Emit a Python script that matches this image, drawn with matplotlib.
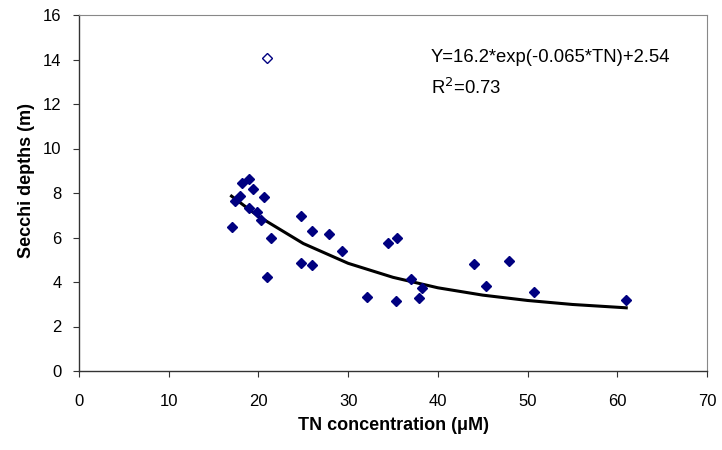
import matplotlib
matplotlib.use("Agg")
import matplotlib.pyplot as plt

plt.rcParams['font.family'] = ['Liberation Sans', 'DejaVu Sans']

# TN concentration (uM) vs Secchi depth (m)
tn_values = [18.2, 19.0, 19.4, 20.65, 17.9, 17.4, 18.96, 19.8, 20.25, 17.1,
             21.4, 24.8, 26.0, 27.9, 24.7, 26.0, 20.95, 29.3, 34.4, 35.5,
             32.1, 35.3, 37.0, 38.2, 37.95, 44.05, 47.96, 45.4, 50.7, 61.0]
secchi_values = [8.44, 8.61, 8.19, 7.82, 7.87, 7.65, 7.34, 7.16, 6.79, 6.47,
                 5.98, 6.95, 6.28, 6.16, 4.85, 4.78, 4.24, 5.39, 5.74, 5.99,
                 3.34, 3.13, 4.12, 3.72, 3.27, 4.81, 4.96, 3.82, 3.56, 3.17]

# outlier, drawn hollow
outlier_tn = [21.0]
outlier_secchi = [14.05]

# fitted curve
curve_tn = [17.0, 20.0, 25.0, 30.0, 35.0, 40.0, 45.0, 50.0, 55.0, 61.0]
curve_secchi = [7.86, 6.95, 5.73, 4.84, 4.21, 3.74, 3.41, 3.17, 2.99, 2.84]

fig = plt.figure(figsize=(7.22, 4.5), dpi=100)
ax = fig.add_axes([79 / 722, 79 / 450, 628 / 722, 356 / 450])

ax.plot(curve_tn, curve_secchi, color='black', linewidth=2.2, zorder=2)
ax.plot(tn_values, secchi_values, linestyle='none', marker='D', markersize=5.2,
        color='#000080', zorder=3)
ax.plot(outlier_tn, outlier_secchi, linestyle='none', marker='D', markersize=5.2,
        markerfacecolor='white', markeredgecolor='#000080', markeredgewidth=1.0, zorder=3)

ax.text(39.2, 14.07, "Y=16.2*exp(-0.065*TN)+2.54", fontsize=13.3, va='center', ha='left')
ax.text(39.2, 12.71, r"R$^2$=0.73", fontsize=13.3, va='center', ha='left')

ax.set_xlim(0, 70)
ax.set_ylim(0, 16)
ax.set_xticks(range(0, 71, 10))
ax.set_yticks(range(0, 17, 2))
ax.tick_params(direction='out', length=4.5, labelsize=12, color='#333333')
ax.tick_params(axis='x', pad=12)
ax.tick_params(axis='y', pad=8)

for side in ['left', 'bottom']:
    ax.spines[side].set_color('#333333')
    ax.spines[side].set_linewidth(1.0)
for side in ['top', 'right']:
    ax.spines[side].set_color('#888888')
    ax.spines[side].set_linewidth(0.8)

ax.set_xlabel("TN concentration (μM)", fontsize=13, fontweight='bold')
ax.set_ylabel("Secchi depths (m)", fontsize=13, fontweight='bold')
ax.xaxis.set_label_coords(0.5, -0.128)
ax.yaxis.set_label_coords(-0.07, 0.535)

plt.savefig("out.png", dpi=100)
